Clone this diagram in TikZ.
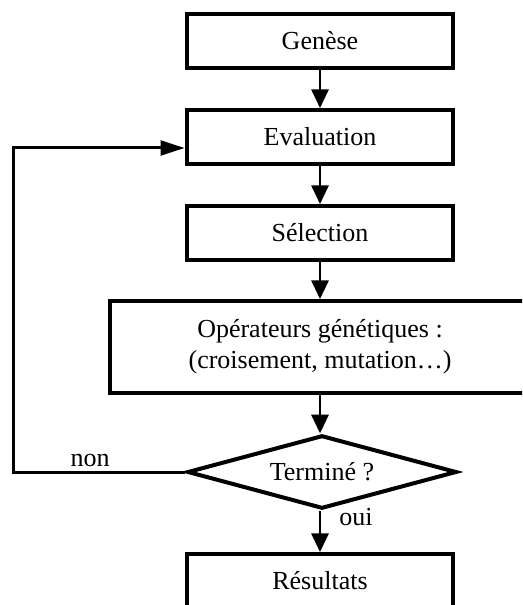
\documentclass[tikz,border=0pt]{standalone}
\usepackage{fontspec}
\setmainfont{Liberation Serif}
\usetikzlibrary{arrows.meta,positioning,calc,shapes.geometric}
\tikzset{
  stepbox/.style={draw=black,line width=3pt,fill=white,align=center,
    font=\fontsize{19.5}{23}\selectfont,inner sep=0pt,
    minimum width=200pt,minimum height=40.5pt},
  widebox/.style={stepbox,minimum width=315pt,minimum height=69pt},
  testbox/.style={stepbox,diamond,aspect=3.7,minimum width=202pt,minimum height=55pt},
  arr/.style={-{Triangle[length=14pt,width=13pt]},line width=1.5pt},
  looparr/.style={-{Triangle[length=18pt,width=11pt]},line width=2.25pt},
  lbl/.style={font=\fontsize{19.5}{23}\selectfont,inner sep=0pt},
}
\begin{document}
\begin{tikzpicture}[x=0.75pt,y=-0.75pt]
  \useasboundingbox (0,0) rectangle (522,605);
  \clip (0,0) rectangle (522,605);
  % main chain
  \node[stepbox] (genese) at (320,41) {Genèse};
  \node[stepbox] (evaluation) at (320,137) {Evaluation};
  \node[stepbox] (selection) at (320,233) {Sélection};
  \node[widebox] (operateurs) at (320,347) {Opérateurs génétiques :\\(croisement, mutation…)};
  \node[testbox] (termine) at (322,472) {Terminé ?};
  \node[stepbox] (resultats) at (320,581) {Résultats};
  % arrows
  \draw[arr] (genese) -- (evaluation);
  \draw[arr] (evaluation) -- (selection);
  \draw[arr] (selection) -- (operateurs);
  \draw[arr] (operateurs.south) -- (operateurs.south |- termine.north);
  \draw[arr] (termine.south -| resultats.north) -- (resultats.north);
  % loop back
  \coordinate (loopx) at (13,0);
  \coordinate (loopin) at ([yshift=-8.25pt]evaluation.west);
  \draw[looparr] (termine.west) -- (termine.west -| loopx) |- (loopin);
  % labels
  \node[lbl] (non) at (90,460) {non};
  \node[lbl] (oui) at (356,517) {oui};
\end{tikzpicture}
\end{document}
